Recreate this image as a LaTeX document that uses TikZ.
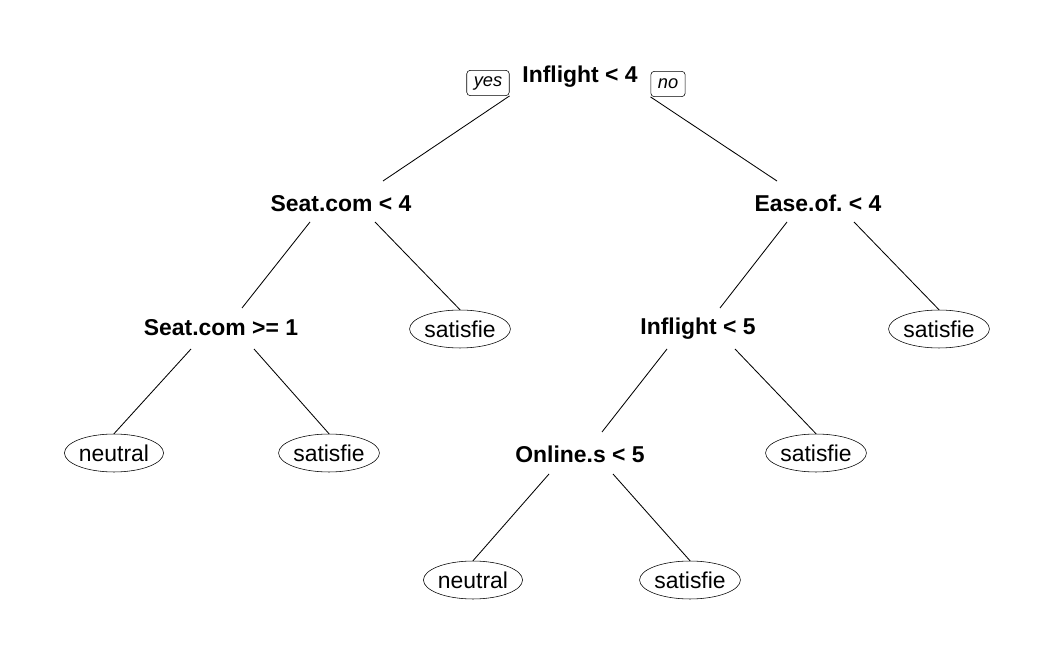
\documentclass[tikz,border=0pt]{standalone}
\usepackage{fontspec}
\setmainfont{Liberation Sans}
\usetikzlibrary{shapes.geometric,calc}

\tikzset{
	split/.style={anchor=base,inner sep=0pt,font=\fontsize{16.3}{19}\selectfont\bfseries},
	leaf/.style={draw,ellipse,minimum width=67pt,minimum height=27pt,inner sep=0pt,font=\fontsize{16.3}{19}\selectfont},
	tag/.style={draw,rounded corners=2.5pt,minimum height=18pt,inner xsep=5pt,inner ysep=0pt,font=\fontsize{13}{15}\selectfont\itshape},
	branch/.style={line width=0.6pt}
}

\begin{document}
\begin{tikzpicture}[x=0.025cm,y=-0.025cm]
	\useasboundingbox (0,0) rectangle (1041,649);

	% splits
	\node[split] (root) at (580,83) {Inflight < 4};
	\node[split] (seat) at (341,212) {Seat.com < 4};
	\node[split] (ease) at (818,212) {Ease.of.\ < 4};
	\node[split] (seatb) at (221,336) {Seat.com >= 1};
	\node[split] (inflb) at (698,335) {Inflight < 5};
	\node[split] (online) at (580,462) {Online.s < 5};

	% yes / no
	\node[tag] (yes) at (488,83) {yes};
	\node[tag] (no) at (668,84) {no};

	% leaves
	\node[leaf] (l1) at (460,329) {satisfie};
	\node[leaf] (l2) at (939,329) {satisfie};
	\node[leaf] (l3) at (114,453) {neutral};
	\node[leaf] (l4) at (329,453) {satisfie};
	\node[leaf] (l5) at (816,453) {satisfie};
	\node[leaf] (l6) at (473,580) {neutral};
	\node[leaf] (l7) at (690,580) {satisfie};

	% branches
	\draw[branch] (yes.south east) -- ($(seat.base)+(42,-31)$);
	\draw[branch] (no.south west) -- ($(ease.base)+(-41,-31)$);
	\draw[branch] ($(seat.base)+(-31,10)$) -- ($(seatb.base)+(21,-28)$);
	\draw[branch] ($(seat.base)+(34,10)$) -- (l1.north);
	\draw[branch] ($(ease.base)+(-31,10)$) -- ($(inflb.base)+(22,-27)$);
	\draw[branch] ($(ease.base)+(36,10)$) -- (l2.north);
	\draw[branch] ($(seatb.base)+(-30,13)$) -- (l3.north);
	\draw[branch] ($(seatb.base)+(33,13)$) -- (l4.north);
	\draw[branch] ($(inflb.base)+(-31,14)$) -- ($(online.base)+(22,-30)$);
	\draw[branch] ($(inflb.base)+(37,14)$) -- (l5.north);
	\draw[branch] ($(online.base)+(-31,12)$) -- (l6.north);
	\draw[branch] ($(online.base)+(33,12)$) -- (l7.north);

\end{tikzpicture}
\end{document}
